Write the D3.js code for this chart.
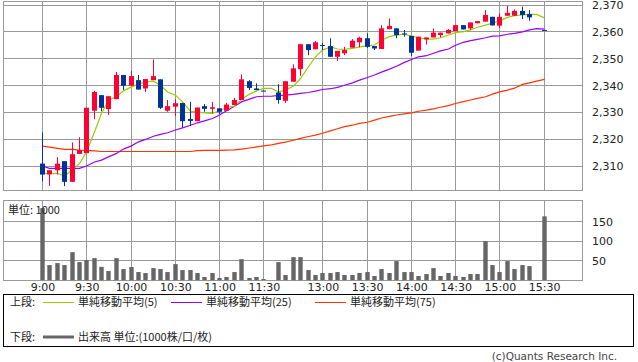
<!DOCTYPE html>
<html>
<head>
<meta charset="utf-8">
<script src="https://cdn.jsdelivr.net/npm/d3@7"></script>
<style>
  body { margin: 0; background: #fff; }
  text { font-family: "DejaVu Sans", sans-serif; fill: #222; }
  .jp { font-family: "Noto Sans CJK JP", sans-serif; }
</style>
</head>
<body>
<svg id="chart" width="638" height="362"></svg>
<script>
'use strict';

// 5 minute bars, slot 31 (lunch) and 67 (15:25) have no trade
var opens = [2310.9,2306.9,2308.4,2311.8,2304.1,2314.5,2314.8,2330.6,2336.4,2331.2,2334.9,2343.9,2339.9,2342.0,2338.9,2342.0,2342.3,2330.6,2332.1,2333.5,
  2327.5,2326.7,2332.3,2331.3,2331.5,2330.6,2332.7,2334.6,2341.6,2338.9,2338.1,null,2337.4,2334.3,2341.4,2346.1,2355.4,2353.5,2355.1,2354.7,
  2350.7,2352.0,2354.1,2356.1,2357.6,2354.7,2353.6,2361.0,2361.3,2359.4,2358.5,2353.0,2357.2,2357.9,2358.8,2359.4,2360.3,2362.5,2361.3,2363.2,
  2363.8,2365.6,2362.3,2366.0,2366.0,2367.8,2366.6,null,2360.7];
var highs = [2322.5,2308.4,2313.3,2311.8,2318.8,2320.7,2331.7,2338.0,2336.4,2336.0,2345.0,2343.9,2345.4,2343.9,2342.4,2349.7,2342.3,2334.6,2334.9,2333.5,
  2333.9,2331.8,2333.1,2333.9,2331.5,2333.5,2335.4,2344.1,2342.0,2340.8,2338.1,null,2340.5,2341.6,2347.9,2355.4,2355.4,2356.6,2355.9,2357.6,
  2352.9,2354.4,2357.3,2358.2,2359.4,2354.7,2362.5,2365.0,2361.3,2360.7,2358.5,2358.2,2357.9,2361.3,2359.7,2361.0,2362.5,2362.5,2363.5,2364.0,
  2368.1,2365.6,2366.9,2369.7,2368.4,2369.4,2368.1,null,2360.7];
var lows = [2304.3,2302.6,2306.8,2302.5,2304.1,2314.5,2314.8,2327.4,2330.4,2329.0,2334.9,2338.3,2339.9,2338.5,2337.6,2342.0,2331.2,2330.2,2328.6,2324.4,
  2324.9,2326.7,2330.2,2329.6,2329.4,2330.6,2332.7,2334.6,2338.3,2338.3,2338.0,null,2333.2,2333.5,2341.4,2343.6,2351.3,2353.5,2353.2,2350.7,
  2349.2,2351.3,2354.1,2354.2,2354.0,2353.2,2353.6,2361.0,2357.6,2358.2,2351.0,2353.0,2355.3,2357.9,2357.9,2359.4,2360.3,2360.9,2360.7,2363.2,
  2363.8,2362.4,2361.3,2366.0,2366.0,2364.8,2364.1,null,2360.6];
var closes = [2306.8,2308.4,2310.9,2304.1,2314.4,2315.9,2331.7,2337.6,2331.7,2336.0,2343.9,2339.9,2343.5,2338.5,2342.4,2343.5,2331.7,2332.3,2333.4,2326.7,
  2326.8,2331.8,2331.3,2331.9,2330.2,2332.9,2334.6,2342.3,2339.1,2338.3,2338.0,null,2334.6,2341.6,2346.4,2355.4,2353.2,2356.1,2355.0,2350.7,
  2352.9,2353.2,2356.7,2357.8,2354.4,2353.8,2361.3,2362.2,2358.8,2359.2,2352.2,2358.2,2357.9,2359.7,2359.7,2360.7,2362.5,2360.9,2363.5,2364.0,
  2366.3,2362.4,2365.6,2367.1,2367.8,2366.3,2365.4,null,2360.6];

var ma5 = [2307.2,2307.1,2307.3,2306.2,2308.7,2310.9,2315.3,2322.7,2329.6,2334.6,2335.8,2338.0,2339.5,2340.5,2341.4,2341.6,2340.1,2337.6,2336.4,2333.9,
  2330.4,2330.1,2329.8,2329.6,2330.6,2331.8,2332.3,2334.8,2336.8,2338.0,2338.9,2338.9,2337.6,2338.3,2339.8,2342.6,2347.0,2350.7,2353.2,2354.4,
  2353.6,2353.5,2353.8,2354.4,2354.8,2355.1,2356.9,2358.2,2358.8,2359.1,2358.4,2357.8,2357.3,2357.3,2357.8,2358.8,2359.7,2360.1,2360.7,2361.7,
  2362.5,2363.2,2364.1,2365.4,2366.0,2366.3,2366.5,2366.5,2365.2];
var ma25 = [2310.0,2309.1,2309.1,2309.1,2309.1,2309.1,2310.0,2311.5,2312.2,2313.4,2314.7,2316.3,2317.5,2319.0,2319.9,2321.1,2321.8,2322.4,2323.4,2324.2,
  2325.2,2326.1,2326.8,2327.7,2329.0,2330.6,2332.3,2333.9,2334.9,2335.8,2336.0,2336.0,2336.3,2336.4,2336.7,2337.1,2337.4,2337.9,2338.5,2338.8,
  2339.3,2340.1,2341.0,2342.0,2343.0,2343.9,2345.0,2346.1,2347.2,2348.6,2349.7,2350.7,2351.1,2352.0,2352.9,2353.6,2355.0,2356.1,2356.7,2357.2,
  2357.8,2358.4,2358.5,2359.1,2359.4,2360.0,2360.7,2361.2,2361.0];
var ma75 = [2317.4,2317.0,2316.6,2316.2,2316.2,2315.9,2315.8,2315.6,2315.4,2315.4,2315.4,2315.4,2315.4,2315.4,2315.4,2315.4,2315.4,2315.4,2315.4,2315.4,
  2315.4,2315.7,2315.8,2315.8,2315.8,2315.9,2316.0,2316.3,2316.7,2317.1,2317.5,2317.9,2318.4,2318.9,2319.6,2320.3,2321.0,2321.5,2322.2,2323.1,
  2323.9,2324.7,2325.2,2325.9,2326.3,2327.1,2327.9,2328.5,2329.0,2329.4,2329.8,2330.4,2330.8,2331.3,2331.9,2332.5,2333.3,2334.0,2334.6,2335.2,
  2335.8,2336.8,2337.6,2338.3,2339.0,2340.4,2341.0,2341.6,2342.3];

var volumes = [185,38.8,43.9,38.8,71.9,46.4,51.5,56.6,34.4,23.5,56.6,28.6,33.7,20.9,18.4,31.1,28.6,20.9,41.3,26,
  26,18.4,8.2,18.4,5.6,8.2,20.9,54,5.6,8.2,3,0,46.4,13.3,59.2,59.2,26,13.3,18.4,18.4,
  20.9,13.3,13.3,18.4,20.9,10.7,28.6,18.4,49,20.9,20.9,10.7,15.8,31.1,10.7,18.4,10.7,8.2,15.8,15.8,
  100,38.8,20.9,49,28.6,38.8,36.2,0,163.7];

var timeTicks = [0, 6, 12, 18, 24, 30, 38, 44, 50, 56, 62, 68];
var timeLabels = ['9:00','9:30','10:00','10:30','11:00','11:30','13:00','13:30','14:00','14:30','15:00','15:30'];
var priceTicks = [2310, 2320, 2330, 2340, 2350, 2360, 2370];
var volumeTicks = [50, 100, 150];

var upColor = '#ff0033',
    downColor = '#003399',
    gridColor = '#999999';

var svg = d3.select('#chart');

var x = d3.scaleLinear().domain([0, 68]).range([42.5, 544.2]);
var y = d3.scaleLinear().domain([2310, 2370]).range([166, 5]);
var vy = d3.scaleLinear().domain([0, 150]).range([280.2, 221.7]);

var left = 3, right = 583;
var fmt = d3.format(',');

function px(v) { return Math.floor(v) + 0.5; }

// frames and grids
function panel(top, bottom, yTicks, scale) {
  var g = svg.append('g');
  g.selectAll('.hg').data(yTicks).enter().append('line')
    .attr('x1', left).attr('x2', right)
    .attr('y1', function(d) { return px(scale(d)); })
    .attr('y2', function(d) { return px(scale(d)); })
    .attr('stroke', gridColor);
  g.selectAll('.vg').data(timeTicks).enter().append('line')
    .attr('x1', function(d) { return px(x(d)); })
    .attr('x2', function(d) { return px(x(d)); })
    .attr('y1', top).attr('y2', bottom)
    .attr('stroke', gridColor);
  g.append('rect')
    .attr('x', left + 0.5).attr('y', top + 0.5)
    .attr('width', right - left - 1).attr('height', bottom - top - 1)
    .attr('fill', 'none').attr('stroke', gridColor);
  return g;
}

panel(1, 191, priceTicks, y);
panel(200, 281, volumeTicks, vy);

svg.selectAll('.plabel').data(priceTicks).enter().append('text')
  .attr('x', 592).attr('y', function(d) { return y(d) + 4; })
  .style('font-size', '11px')
  .text(function(d) { return fmt(d); });

svg.selectAll('.vlabel').data(volumeTicks).enter().append('text')
  .attr('x', 592).attr('y', function(d) { return vy(d) + 4; })
  .style('font-size', '11px')
  .text(function(d) { return d; });

svg.selectAll('.tlabel').data(timeTicks).enter().append('text')
  .attr('x', function(d) { return x(d) + 0.5; })
  .attr('y', 291)
  .attr('text-anchor', 'middle')
  .style('font-size', '11px')
  .text(function(d, i) { return timeLabels[i]; });

// volume bars
var volData = volumes.map(function(v, i) { return {i: i, v: v}; })
  .filter(function(d) { return d.v > 0; });

svg.append('g').selectAll('rect').data(volData).enter().append('rect')
  .attr('x', function(d) { return Math.floor(x(d.i)) - 1.7; })
  .attr('y', function(d) { return vy(d.v); })
  .attr('width', 4.4)
  .attr('height', function(d) { return vy(0) - vy(d.v); })
  .attr('fill', '#666666');

svg.append('text').attr('class', 'jp')
  .attr('x', 8).attr('y', 214)
  .style('font-size', '11px')
  .text('単位: 1000');

// moving averages
var line = d3.line()
  .x(function(d) { return px(x(d[0])); })
  .y(function(d) { return y(d[1]); });

[[ma75, '#ff3300'], [ma25, '#9900ff'], [ma5, '#99cc00']].forEach(function(s) {
  svg.append('path')
    .datum(s[0].map(function(v, i) { return [i, v]; }))
    .attr('d', line)
    .attr('fill', 'none')
    .attr('stroke', s[1])
    .attr('stroke-width', 1.2);
});

// candles
var bars = closes.map(function(c, i) {
  return {i: i, o: opens[i], h: highs[i], l: lows[i], c: c};
}).filter(function(d) { return d.c !== null; });

function barColor(d) { return d.c > d.o ? upColor : downColor; }

var candle = svg.append('g').selectAll('g').data(bars).enter().append('g');

candle.append('line')
  .attr('x1', function(d) { return px(x(d.i)); })
  .attr('x2', function(d) { return px(x(d.i)); })
  .attr('y1', function(d) { return y(d.h); })
  .attr('y2', function(d) { return y(d.l); })
  .attr('stroke', barColor);

candle.append('rect')
  .attr('x', function(d) { return px(x(d.i)) - 2.5; })
  .attr('y', function(d) { return Math.min(y(d.o), y(d.c)); })
  .attr('width', 5)
  .attr('height', function(d) { return Math.max(1, Math.abs(y(d.o) - y(d.c))); })
  .attr('fill', barColor);

// legend
var lg = svg.append('g');
lg.append('rect')
  .attr('x', 3.5).attr('y', 294.5).attr('width', 630).attr('height', 52)
  .attr('fill', 'none').attr('stroke', '#000');

var legendItems = [
  {x: 43, label: '単純移動平均(5)', color: '#99cc00'},
  {x: 171, label: '単純移動平均(25)', color: '#9900ff'},
  {x: 315, label: '単純移動平均(75)', color: '#ff3300'}
];

lg.append('text').attr('class', 'jp').attr('x', 10).attr('y', 306)
  .style('font-size', '11px').text('上段:');
legendItems.forEach(function(d) {
  lg.append('line')
    .attr('x1', d.x).attr('x2', d.x + 31)
    .attr('y1', 302.5).attr('y2', 302.5)
    .attr('stroke', d.color);
  lg.append('text').attr('class', 'jp')
    .attr('x', d.x + 35).attr('y', 306)
    .style('font-size', '11px').text(d.label);
});

lg.append('text').attr('class', 'jp').attr('x', 10).attr('y', 341)
  .style('font-size', '11px').text('下段:');
lg.append('line')
  .attr('x1', 43).attr('x2', 74)
  .attr('y1', 337).attr('y2', 337)
  .attr('stroke', '#666666').attr('stroke-width', 3);
lg.append('text').attr('class', 'jp').attr('x', 78).attr('y', 341)
  .style('font-size', '11px').text('出来高 単位:(1000株/口/枚)');

svg.append('text')
  .attr('x', 617).attr('y', 360)
  .attr('text-anchor', 'end')
  .style('font-size', '10.5px')
  .style('fill', '#444')
  .text('(c)Quants Research Inc.');
</script>
</body>
</html>
